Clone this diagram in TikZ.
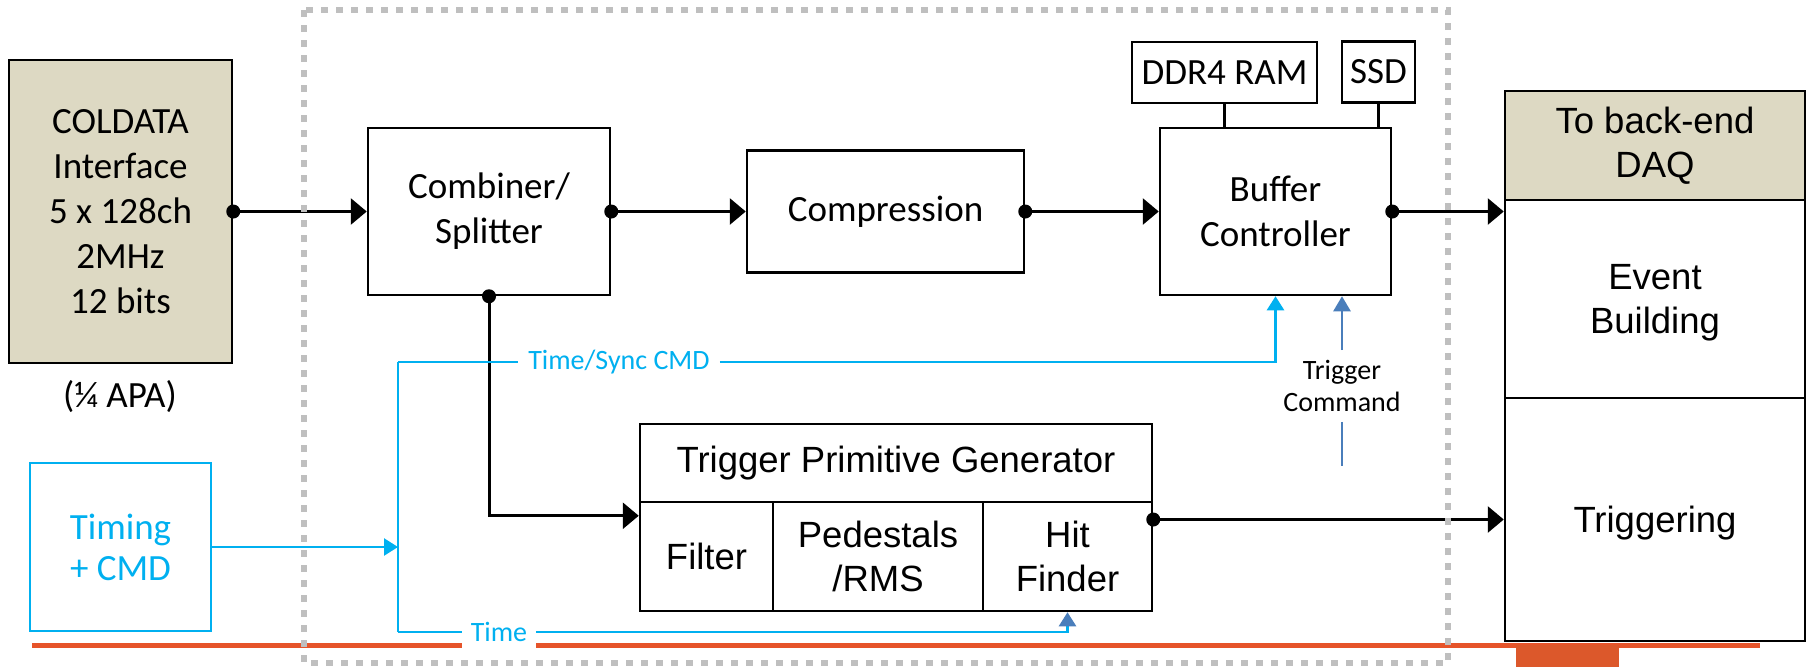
\documentclass[tikz,border=0pt]{standalone}
\usepackage{fontspec}
\setmainfont{Carlito}
\newfontfamily\arialfont{Liberation Sans}
\usetikzlibrary{arrows.meta,calc}
\definecolor{tanc}{HTML}{DDD9C3}
\definecolor{cyanc}{HTML}{00B0F0}
\definecolor{stblue}{HTML}{4A7EBB}
\definecolor{orangec}{HTML}{E6542A}
\definecolor{orangeb}{HTML}{DC582B}
\definecolor{grayc}{HTML}{BFBFBF}
\newcommand{\calbig}{\fontsize{37}{45}\selectfont}
\newcommand{\calsmall}{\fontsize{28}{32}\selectfont}
\newcommand{\arbig}{\arialfont\fontsize{36.5}{44}\selectfont}
\begin{document}
\begin{tikzpicture}[x=1pt,y=-1pt,
  blk/.style={draw=black,line width=2.5pt,inner sep=0pt,align=center,font=\calbig},
  ablk/.style={blk,font=\arbig},
  conn/.style={line width=3pt,-{Triangle[length=16pt,width=26pt]}},
  cyanl/.style={draw=cyanc,line width=2.5pt},
  cyarr/.style={cyanl,-{Triangle[length=14pt,width=17pt]}},
  lbl/.style={inner ysep=8pt,inner xsep=9pt,fill=white,text=cyanc,font=\calsmall},
  dotc/.style={fill=black}
]
\useasboundingbox (0,0) rectangle (1808,667);
% orange rule
\draw[orangec,line width=5pt] (32,645) -- (1760,645);
\fill[orangeb] (1516,645) rectangle (1619,667);

% blocks
\node[blk,fill=tanc,minimum width=223pt,minimum height=303pt] (coldata) at (120.5,211.5)
  {COLDATA\\Interface\\5 x 128ch\\2MHz\\12 bits};
\node[font=\calbig] (apa) at (120,397) {(¼ APA)};
\node[blk,minimum width=242pt,minimum height=167pt] (comb) at (489,211.5) {Combiner/\\Splitter};
\node[blk,minimum width=277pt,minimum height=122pt] (comp) at (885.5,211.5) {Compression};
\node[blk,minimum width=231pt,minimum height=167pt] (buf) at (1275.5,211.5) {Buffer\\Controller};
\node[blk,minimum width=185pt,minimum height=61pt] (ddr) at (1224.5,72.5) {DDR4 RAM};
\node[blk,minimum width=73pt,minimum height=61pt] (ssd) at (1378.5,72) {SSD};
\node[ablk,fill=tanc,minimum width=300pt,minimum height=109pt] (daq) at (1655,145.5) {To back-end\\DAQ};
\node[ablk,text depth=0pt,minimum width=300pt,minimum height=198pt] (evt) at (1655,299) {Event\\Building};
\node[ablk,text depth=0pt,minimum width=300pt,minimum height=243pt] (trig) at (1655,519.5) {Triggering};
\node[ablk,minimum width=512pt,minimum height=78pt] (tpg) at (896,463) {Trigger Primitive Generator};
\node[ablk,minimum width=133pt,minimum height=109pt] (filt) at (706.5,556.5) {Filter};
\node[ablk,minimum width=210pt,minimum height=109pt] (ped) at (878,556.5) {Pedestals\\/RMS};
\node[ablk,minimum width=169pt,minimum height=109pt] (hit) at (1067.5,556.5) {Hit\\Finder};
\node[blk,draw=cyanc,text=cyanc,font={\fontsize{37}{41}\selectfont},minimum width=181pt,minimum height=168pt] (timing) at (120.5,547) {Timing\\+ CMD};

% labels
\node[lbl,inner xsep=10pt] (tslbl) at (619,362) {Time/Sync CMD};
\node[lbl] (tlbl) at (499,632) {Time};
\node[font=\calsmall,align=center,inner xsep=2pt,inner ysep=10pt] (tclbl) at (1342,386) {Trigger\\Command};
\coordinate (vt) at (398,362);
\coordinate (vb) at (398,632);
\coordinate (tcend) at (1342,466);

% black data connectors
\draw[conn] (coldata.east) -- (comb.west);
\draw[conn] (comb.east) -- (comp.west);
\draw[conn] (comp.east) -- (buf.west);
\draw[conn] (buf.east) -- (buf.east -| evt.west);
\draw[conn] (comb.south) |- ($(filt.north west)+(0,15)$);
\draw[conn] (trig.west -| hit.east) -- (trig.west);
\draw[line width=2.5pt] (ddr.south) -- (ddr.south |- buf.north);
\draw[line width=2.5pt] (ssd.south) -- (ssd.south |- buf.north);
\foreach \p in {coldata.east,comb.east,comp.east,buf.east,comb.south}
  \fill[dotc] (\p) circle[radius=7pt];
\fill[dotc] (trig.west -| hit.east) circle[radius=7pt];

% timing connectors
\draw[cyarr] (timing.east) -- (timing.east -| vt);
\draw[cyanl] (vt) -- (vb);
\draw[cyanl] (vt) -- (tslbl.west);
\draw[cyarr] (tslbl.east) -| (buf.south);
\draw[cyanl] (vb) -- (tlbl.west);
\draw[cyanl,-{Triangle[length=14pt,width=17pt,color=stblue]}] (tlbl.east) -| (hit.south);

% trigger command
\draw[stblue,line width=2.5pt,-{Triangle[length=15pt,width=17pt]}] (tclbl.north) -- (tclbl.north |- buf.south);
\draw[stblue,line width=2.5pt] (tclbl.south) -- (tcend);

% dashed frame
\draw[grayc,line width=5.5pt,dash pattern=on 7pt off 8pt] (304,10) rectangle (1448,663);
\end{tikzpicture}
\end{document}
